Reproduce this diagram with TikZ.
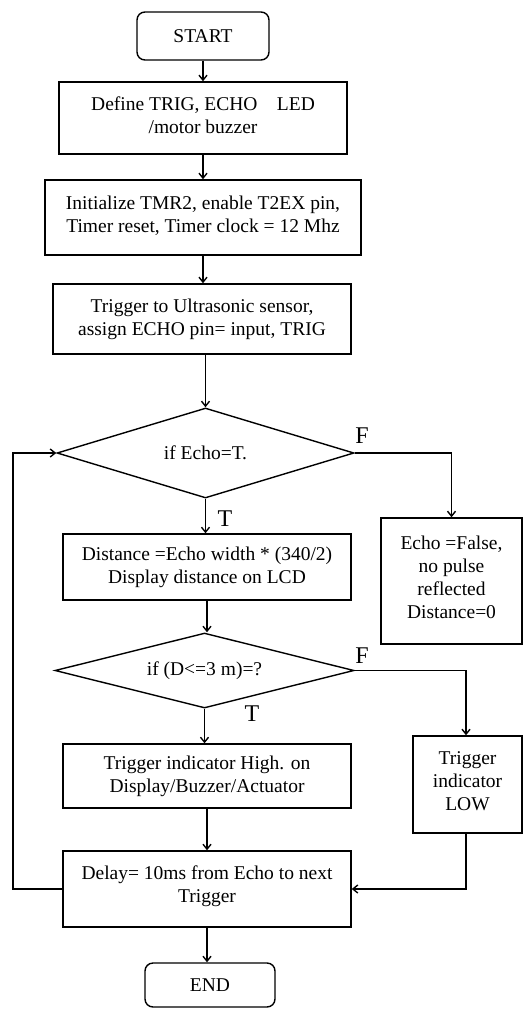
\documentclass[tikz,border=0pt]{standalone}
\usepackage{fontspec}
\setmainfont{Liberation Serif}
\usetikzlibrary{arrows.meta,shapes.geometric}
\tikzset{
  every node/.style={font=\fontsize{19.5}{23}\selectfont},
  box/.style={draw,line width=1.4pt,rectangle,align=center,inner sep=0pt},
  term/.style={box,rounded corners=8pt},
  dec/.style={draw,line width=1.4pt,diamond,aspect=4,inner sep=0pt,align=center},
  lbl/.style={inner sep=0pt,font=\fontsize{24}{24}\selectfont},
  arr/.style={line width=1.4pt,-{Straight Barb[length=5pt,width=8pt]}},
  ln/.style={line width=1.4pt}
}
\begin{document}
\begin{tikzpicture}[x=1pt,y=-1pt]
\fill[white] (0,0) rectangle (525,1012);
\useasboundingbox (0,0) rectangle (525,1012);
\node[term,minimum width=132pt,minimum height=48pt] (start) at (203,36) {START};
\node[box,minimum width=288pt,minimum height=72pt] (define) at (203,118) {Define TRIG, ECHO\quad LED\\/motor buzzer\rule[-6pt]{0pt}{1pt}};
\node[box,minimum width=316pt,minimum height=75pt] (init) at (203,217.5) {Initialize TMR2, enable T2EX pin,\\Timer reset, Timer clock = 12 Mhz\rule[-6pt]{0pt}{1pt}};
\node[box,minimum width=298pt,minimum height=70pt] (trig) at (202,319) {Trigger to Ultrasonic sensor,\\assign ECHO pin= input, TRIG};
\node[dec,minimum width=297pt,minimum height=90pt] (d1) at (205.5,453) {if Echo=T.};
\node[box,minimum width=288pt,minimum height=66pt] (dist) at (207,567) {Distance =Echo width * (340/2)\\Display distance on LCD};
\node[box,minimum width=141pt,minimum height=126pt] (efalse) at (451.5,581) {Echo =False,\\no pulse\\reflected\\Distance=0\rule[-8pt]{0pt}{1pt}};
\node[dec,minimum width=299pt,minimum height=75pt] (d2) at (204.5,670.5) {if (D<=3 m)=?};
\node[box,minimum width=288pt,minimum height=64pt] (high) at (207,776) {Trigger indicator High. on\\Display/Buzzer/Actuator};
\node[box,minimum width=109pt,minimum height=97pt] (low) at (467.5,784.5) {Trigger\\indicator\\LOW\rule[-6pt]{0pt}{1pt}};
\node[box,minimum width=288pt,minimum height=76pt] (delay) at (207,889) {Delay= 10ms from Echo to next\\Trigger\rule[-10pt]{0pt}{1pt}};
\node[term,minimum width=130pt,minimum height=44pt] (end) at (210,985) {END};
\node[lbl] (f1) at (362,436) {F};
\node[lbl] (t1) at (225,519) {T};
\node[lbl] (f2) at (362,656) {F};
\node[lbl] (t2) at (252,714) {T};
\coordinate (lp) at (13,889);
\coordinate (fa) at (451.5,453);
\coordinate (fb) at (466,670.5);
\draw[arr] (start.south) -- (start.south |- define.north);
\draw[arr] (define.south) -- (define.south |- init.north);
\draw[arr] (init.south) -- (init.south |- trig.north);
\draw[arr] (trig.south -| d1.north) -- (d1.north);
\draw[arr] (d1.south) -- (d1.south |- dist.north);
\draw[arr] (dist.south) -- (dist.south |- d2.north);
\draw[arr] (d2.south) -- (d2.south |- high.north);
\draw[arr] (high.south) -- (delay.north);
\draw[arr] (delay.south) -- (delay.south |- end.north);
\draw[arr] (d1.east) -- (fa) -- (efalse.north);
\draw[arr] (d2.east) -- (fb) -- (fb |- low.north);
\draw[arr] (low.south -| fb) |- (delay.east);
\draw[arr] (delay.west) -- (lp) |- (d1.west);
\end{tikzpicture}
\end{document}
